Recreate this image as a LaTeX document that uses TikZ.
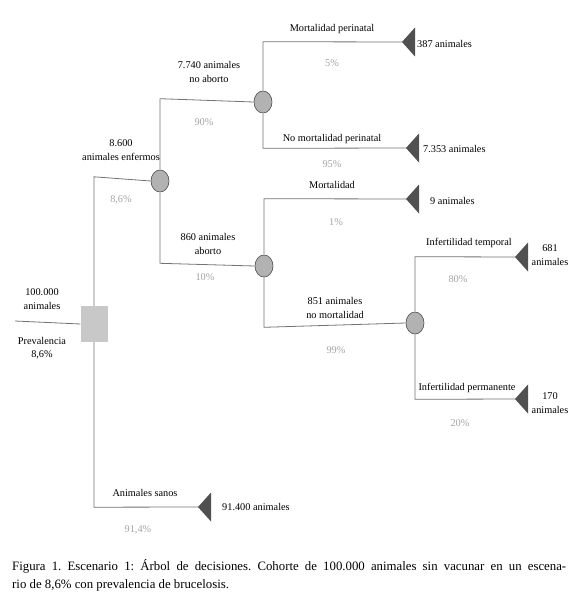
\documentclass[tikz,border=0pt]{standalone}
\usepackage{fontspec}
\setmainfont{Liberation Serif}
\usetikzlibrary{shapes.geometric}
\frenchspacing
\definecolor{linec}{RGB}{115,115,115}
\definecolor{nodefill}{RGB}{178,178,178}
\definecolor{sqfill}{RGB}{200,200,200}
\definecolor{trifill}{RGB}{80,80,80}
\definecolor{pctc}{RGB}{165,165,165}
\tikzset{
  tline/.style={draw=linec, line width=0.8pt},
  chance/.style={ellipse, draw=black!70, line width=0.6pt, fill=nodefill, minimum width=18pt, minimum height=22pt, inner sep=0pt},
  decision/.style={rectangle, fill=sqfill, minimum width=27pt, minimum height=36pt, inner sep=0pt},
  lbl/.style={font=\fontsize{10.3}{13.5}\selectfont, align=center, inner sep=0pt, text=black},
  pct/.style={font=\fontsize{10.3}{13.5}\selectfont, inner sep=0pt, text=pctc},
  capt/.style={font=\fontsize{12.8}{18}\selectfont\frenchspacing, anchor=north west, inner sep=0pt, text width=554pt, align=justify},
}
\newcommand{\mytri}[3]{%
  \coordinate (#1) at (#2,#3);
  \fill[trifill] (#1) -- ++(13,-14.5) -- ++(0,29) -- cycle;}
\begin{document}
\begin{tikzpicture}[x=1pt,y=-1pt]
\useasboundingbox[fill=white] (0,0) rectangle (576,599);
% nodes
\node[decision] (sq) at (94,324) {};
\node[chance] (c1) at (160,181) {};
\node[chance] (c2) at (263,102) {};
\node[chance] (c3) at (264,266) {};
\node[chance] (c4) at (415,323) {};
\coordinate (in) at (15,321);
\mytri{t1}{402}{42}
\mytri{t2}{406}{148}
\mytri{t3}{406}{199}
\mytri{t4}{515}{257}
\mytri{t5}{515}{399}
\mytri{t6}{198}{507}
% connectors
\draw[tline] (in) -- (sq.west);
\draw[tline] (sq.north) -- ++(0,-129) -- (c1.west);
\draw[tline] (sq.south) -- ++(0,165) -- (t6);
\draw[tline] (c1.north) -- ++(0,-71) -- (c2.west);
\draw[tline] (c1.south) -- ++(0,71) -- (c3.west);
\draw[tline] (c2.north) -- ++(0,-49) -- (t1);
\draw[tline] (c2.south) -- ++(0,35) -- (t2);
\draw[tline] (c3.north) -- ++(0,-56) -- (t3);
\draw[tline] (c3.south) -- ++(0,50) -- (c4.west);
\draw[tline] (c4.north) -- ++(0,-55) -- (t4);
\draw[tline] (c4.south) -- ++(0,65) -- (t5);
% labels
\node[lbl] (l100) at (42,299) {100.000\\animales};
\node[lbl] (lprev) at (42,348) {Prevalencia\\8,6\%};
\node[lbl] (lenf) at (121,150) {8.600\\animales enfermos};
\node[pct] (p86) at (121,200) {8,6\%};
\node[lbl] (lnoab) at (209,72) {7.740 animales\\no aborto};
\node[pct] (p90) at (204,122) {90\%};
\node[lbl] (lmp) at (332,29) {Mortalidad perinatal};
\node[pct] (p5) at (332,63) {5\%};
\node[lbl, anchor=west] (l387) at (417,44) {387 animales};
\node[lbl] (lnmp) at (332,139) {No mortalidad perinatal};
\node[pct] (p95) at (332,164) {95\%};
\node[lbl, anchor=west] (l7353) at (423,149) {7.353 animales};
\node[lbl] (lab) at (208,244) {860 animales\\aborto};
\node[pct] (p10) at (205,277) {10\%};
\node[lbl] (lmort) at (332,185) {Mortalidad};
\node[pct] (p1) at (336,222) {1\%};
\node[lbl, anchor=west] (l9) at (430,201) {9 animales};
\node[lbl] (lnm) at (335,308) {851 animales\\no mortalidad};
\node[pct] (p99) at (336,350) {99\%};
\node[lbl] (lit) at (469,243) {Infertilidad temporal};
\node[pct] (p80) at (458,279) {80\%};
\node[lbl] (l681) at (550,255) {681\\animales};
\node[lbl] (lip) at (467,388) {Infertilidad permanente};
\node[pct] (p20) at (460,423) {20\%};
\node[lbl] (l170) at (550,403) {170\\animales};
\node[lbl] (lsan) at (145,493) {Animales sanos};
\node[lbl, anchor=west] (l914) at (222,507) {91.400 animales};
\node[pct] (p914) at (138,530) {91,4\%};
% caption
\node[capt] (cap) at (12,559) {Figura 1. Escenario 1: Árbol de decisiones. Cohorte de 100.000 animales sin vacunar en un escena-\linebreak rio de 8,6\% con prevalencia de brucelosis.};
\end{tikzpicture}
\end{document}
